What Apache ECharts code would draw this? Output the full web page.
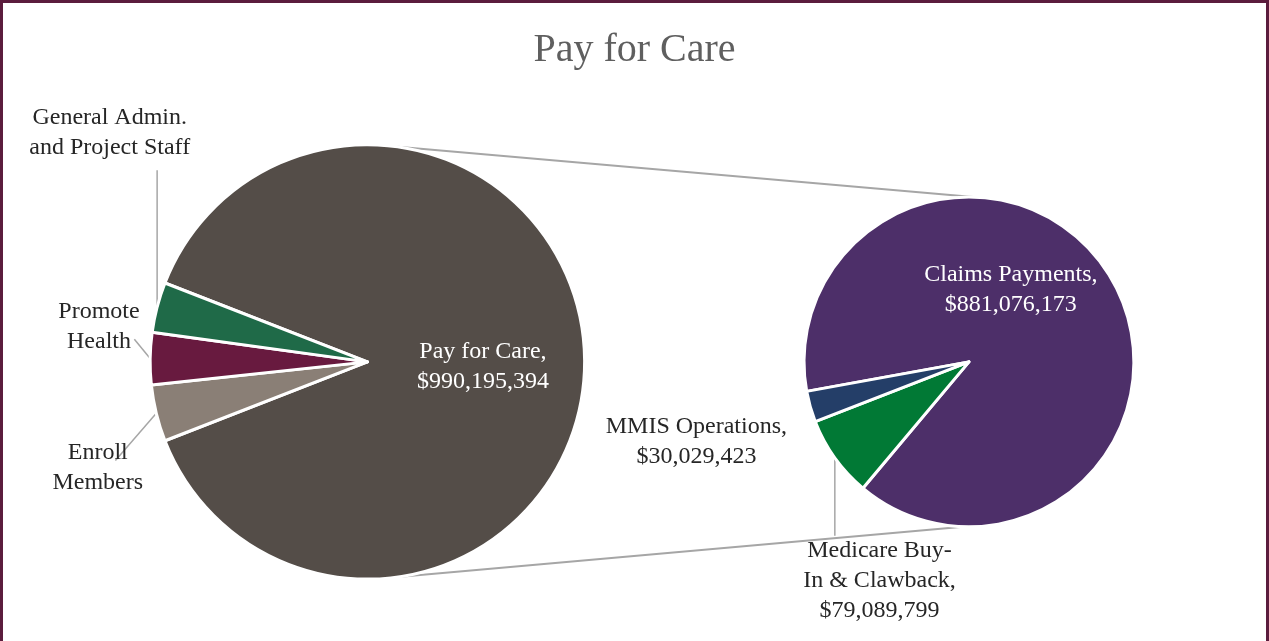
<!DOCTYPE html>
<html>
<head>
<meta charset="utf-8">
<script src="https://cdn.jsdelivr.net/npm/echarts@6/dist/echarts.min.js"></script>
<style>
  html, body { margin: 0; padding: 0; background: #fff; }
  #frame {
    width: 1269px; height: 641px; box-sizing: border-box;
    border-top: 3px solid #5b1c3d; border-left: 3px solid #5b1c3d; border-right: 3px solid #5b1c3d;
  }
  #main { width: 100%; height: 100%; }
</style>
</head>
<body>
<div id="frame"><div id="main"></div></div>
<script>
// left pie: the whole budget, small slices are the non "Pay for Care" pieces
var leftNames = ['Pay for Care', 'Enroll Members', 'Promote Health', 'General Admin. and Project Staff']
var leftLabels = ['Pay for Care,', 'Enroll\nMembers', 'Promote\nHealth', 'General Admin.\nand Project Staff']
var leftValues = [990195394, 47300000, 43600000, 41900000]
var leftColors = ['#544d48', '#8a7f76', '#681a3f', '#1f6a48']

// right pie: breakdown of Pay for Care
var rightNames = ['Claims Payments', 'Medicare Buy-In & Clawback', 'MMIS Operations']
var rightLabels = ['Claims Payments,', 'Medicare Buy-\nIn & Clawback,', 'MMIS Operations,']
var rightValues = [881076173, 79089799, 30029423]
var rightColors = ['#4d2f69', '#017935', '#243e68']

var chart = echarts.init(document.getElementById('main'))
window.addEventListener('resize', function () { chart.resize() })

var W = chart.getWidth()
var H = chart.getHeight()
var R0 = Math.min(W, H) / 2

var LEFT = { cx: 0.2885, cy: 0.5625, r: 0.681 }
var RIGHT = { cx: 0.7648, cy: 0.5625, r: 0.517 }

function money (v) { return '$' + v.toLocaleString('en-US') }
function sum (a) { return a.reduce(function (s, v) { return s + v }, 0) }

// small slices centred on the left side (180 deg)
var otherSpan = (sum(leftValues) - leftValues[0]) / sum(leftValues) * 360
var leftStart = 180 - otherSpan / 2
var rightStart = 190.3

// label anchor (fraction of W/H) and label line end
var leftLabelPos = [[0.380, 0.570], [0.075, 0.728], [0.076, 0.507], [0.0845, 0.204]]
var leftLineEnd = [null, [0.089, 0.717], [0.104, 0.527], 'up']
var rightLabelPos = [[0.798, 0.449], [0.694, 0.906], [0.549, 0.688]]
var rightLineEnd = [null, 'down', null]

function layoutFor (pos, lineEnd) {
  return function (p) {
    var xy = pos[p.dataIndex]
    var out = { x: xy[0] * W, y: xy[1] * H, align: 'center', verticalAlign: 'middle' }
    var e = lineEnd[p.dataIndex]
    var pts = p.labelLinePoints
    if (e && pts) {
      var s = pts[0]
      var end
      if (e === 'up') end = [s[0], 0.262 * H]
      else if (e === 'down') end = [s[0], 0.835 * H]
      else end = [e[0] * W, e[1] * H]
      out.labelLinePoints = [s, end, end]
    }
    return out
  }
}

function pieData (names, values, colors, labels, insideIdx, lineEnd) {
  return names.map(function (n, i) {
    var inside = insideIdx.indexOf(i) >= 0
    var hasValue = labels[i].slice(-1) === ','
    return {
      name: n,
      value: values[i],
      itemStyle: { color: colors[i] },
      label: {
        formatter: hasValue ? labels[i] + '\n' + money(values[i]) : labels[i],
        color: inside ? '#ffffff' : '#262626'
      },
      labelLine: { show: !!lineEnd[i] }
    }
  })
}

var labelFont = { fontFamily: 'Liberation Serif', fontSize: 24, lineHeight: 30 }

function pt (c, r, deg) {
  var a = deg * Math.PI / 180
  return [c.cx * W + r * Math.cos(a), c.cy * H - r * Math.sin(a)]
}
var rL = LEFT.r * R0
var rR = RIGHT.r * R0
var topA = pt(LEFT, rL, 82), topB = pt(RIGHT, rR, 88.5)
var botA = pt(LEFT, rL, -82), botB = pt(RIGHT, rR, -92)

var option = {
  animation: false,
  title: {
    text: 'Pay for Care',
    left: 'center',
    top: 22,
    textStyle: { fontFamily: 'Liberation Serif', fontSize: 40, fontWeight: 'normal', color: '#5f5f5f' }
  },
  graphic: [
    { type: 'line', z: -1, shape: { x1: topA[0], y1: topA[1], x2: topB[0], y2: topB[1] }, style: { stroke: '#a6a6a6', lineWidth: 2 } },
    { type: 'line', z: -1, shape: { x1: botA[0], y1: botA[1], x2: botB[0], y2: botB[1] }, style: { stroke: '#a6a6a6', lineWidth: 2 } }
  ],
  series: [
    {
      name: 'Total',
      type: 'pie',
      center: [LEFT.cx * 100 + '%', LEFT.cy * 100 + '%'],
      radius: [0, LEFT.r * 100 + '%'],
      startAngle: leftStart,
      clockwise: true,
      avoidLabelOverlap: false,
      itemStyle: { borderColor: '#ffffff', borderWidth: 3 },
      label: Object.assign({ show: true, position: 'outside' }, labelFont),
      labelLine: { show: true, length: 5, length2: 5, lineStyle: { color: '#a6a6a6', width: 1.5 } },
      labelLayout: layoutFor(leftLabelPos, leftLineEnd),
      emphasis: { disabled: true },
      data: pieData(leftNames, leftValues, leftColors, leftLabels, [0], leftLineEnd)
    },
    {
      name: 'Pay for Care',
      type: 'pie',
      center: [RIGHT.cx * 100 + '%', RIGHT.cy * 100 + '%'],
      radius: [0, RIGHT.r * 100 + '%'],
      startAngle: rightStart,
      clockwise: true,
      avoidLabelOverlap: false,
      itemStyle: { borderColor: '#ffffff', borderWidth: 3 },
      label: Object.assign({ show: true, position: 'outside' }, labelFont),
      labelLine: { show: true, length: 5, length2: 5, lineStyle: { color: '#a6a6a6', width: 1.5 } },
      labelLayout: layoutFor(rightLabelPos, rightLineEnd),
      emphasis: { disabled: true },
      data: pieData(rightNames, rightValues, rightColors, rightLabels, [0], rightLineEnd)
    }
  ]
}

chart.setOption(option)
</script>
</body>
</html>
